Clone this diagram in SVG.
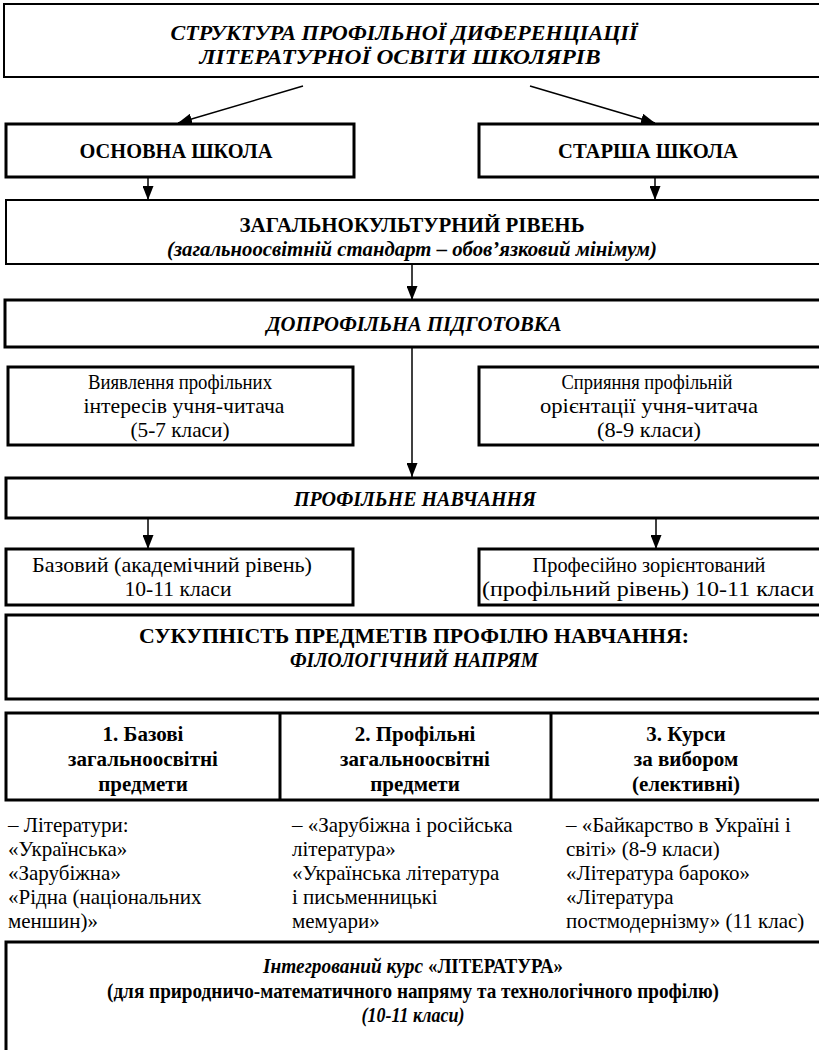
<svg xmlns="http://www.w3.org/2000/svg" width="819" height="1050" viewBox="0 0 819 1050">
<defs>
<marker id="ah" viewBox="0 0 14 11" refX="14" refY="5.5" markerWidth="14" markerHeight="11" markerUnits="userSpaceOnUse" orient="auto">
<path d="M0,0 L14,5.5 L0,11 z" fill="#000"/>
</marker>
</defs>
<rect width="819" height="1050" fill="#fff"/>
<g id="connectors" stroke="#000" stroke-width="1.5" fill="none">
<line x1="303" y1="86" x2="178" y2="123" marker-end="url(#ah)"/>
<line x1="530" y1="86" x2="655" y2="123" marker-end="url(#ah)"/>
<line x1="148" y1="177" x2="148" y2="200" marker-end="url(#ah)"/>
<line x1="655" y1="177" x2="655" y2="200" marker-end="url(#ah)"/>
<line x1="412" y1="264" x2="412" y2="300" marker-end="url(#ah)"/>
<line x1="412" y1="347" x2="412" y2="477" marker-end="url(#ah)"/>
<line x1="148" y1="518" x2="148" y2="549" marker-end="url(#ah)"/>
<line x1="656" y1="518" x2="656" y2="549" marker-end="url(#ah)"/>
</g>
<g id="title">
<rect fill="#fff" stroke="#000" stroke-width="2" x="4" y="4" width="820" height="73"/>
<text font-family="Liberation Serif" font-size="21" font-weight="bold" font-style="italic" text-anchor="middle" x="404" y="40" textLength="467" lengthAdjust="spacingAndGlyphs">СТРУКТУРА ПРОФІЛЬНОЇ ДИФЕРЕНЦІАЦІЇ</text>
<text font-family="Liberation Serif" font-size="21" font-weight="bold" font-style="italic" text-anchor="middle" x="400" y="64" textLength="401" lengthAdjust="spacingAndGlyphs">ЛІТЕРАТУРНОЇ ОСВІТИ ШКОЛЯРІВ</text>
</g>
<g id="osnovna">
<rect fill="#fff" stroke="#000" stroke-width="3" x="6" y="124" width="348" height="53"/>
<text font-family="Liberation Serif" font-size="21" font-weight="bold" text-anchor="middle" x="176" y="158" textLength="193" lengthAdjust="spacingAndGlyphs">ОСНОВНА ШКОЛА</text>
</g>
<g id="starsha">
<rect fill="#fff" stroke="#000" stroke-width="3" x="479" y="124" width="345" height="53"/>
<text font-family="Liberation Serif" font-size="21" font-weight="bold" text-anchor="middle" x="648" y="158" textLength="180" lengthAdjust="spacingAndGlyphs">СТАРША ШКОЛА</text>
</g>
<g id="zagalno">
<rect fill="#fff" stroke="#000" stroke-width="2" x="6" y="200" width="818" height="64"/>
<text font-family="Liberation Serif" font-size="21" font-weight="bold" text-anchor="middle" x="412" y="232" textLength="345" lengthAdjust="spacingAndGlyphs">ЗАГАЛЬНОКУЛЬТУРНИЙ РІВЕНЬ</text>
<text font-family="Liberation Serif" font-size="21" font-weight="bold" font-style="italic" text-anchor="middle" x="412" y="256" textLength="490" lengthAdjust="spacingAndGlyphs">(загальноосвітній стандарт – обов’язковий мінімум)</text>
</g>
<g id="doprofilna">
<rect fill="#fff" stroke="#000" stroke-width="3" x="5" y="300" width="819" height="47"/>
<text font-family="Liberation Serif" font-size="21" font-weight="bold" font-style="italic" text-anchor="middle" x="414" y="331" textLength="295" lengthAdjust="spacingAndGlyphs">ДОПРОФІЛЬНА ПІДГОТОВКА</text>
</g>
<g id="vyiavlennia">
<rect fill="#fff" stroke="#000" stroke-width="3" x="8" y="367" width="345" height="78"/>
<text font-family="Liberation Serif" font-size="21" text-anchor="middle" x="180" y="389" textLength="184" lengthAdjust="spacingAndGlyphs">Виявлення профільних</text>
<text font-family="Liberation Serif" font-size="21" text-anchor="middle" x="184" y="413" textLength="201" lengthAdjust="spacingAndGlyphs">інтересів учня-читача</text>
<text font-family="Liberation Serif" font-size="21" text-anchor="middle" x="180" y="437" textLength="99" lengthAdjust="spacingAndGlyphs">(5-7 класи)</text>
</g>
<g id="spryiannia">
<rect fill="#fff" stroke="#000" stroke-width="3" x="479" y="367" width="345" height="78"/>
<text font-family="Liberation Serif" font-size="21" text-anchor="middle" x="647" y="389" textLength="171" lengthAdjust="spacingAndGlyphs">Сприяння профільній</text>
<text font-family="Liberation Serif" font-size="21" text-anchor="middle" x="649" y="413" textLength="218" lengthAdjust="spacingAndGlyphs">орієнтації учня-читача</text>
<text font-family="Liberation Serif" font-size="21" text-anchor="middle" x="649" y="437" textLength="104" lengthAdjust="spacingAndGlyphs">(8-9 класи)</text>
</g>
<g id="profilne">
<rect fill="#fff" stroke="#000" stroke-width="3" x="6" y="478" width="818" height="40"/>
<text font-family="Liberation Serif" font-size="21" font-weight="bold" font-style="italic" text-anchor="middle" x="415" y="506" textLength="242" lengthAdjust="spacingAndGlyphs">ПРОФІЛЬНЕ НАВЧАННЯ</text>
</g>
<g id="bazovyi">
<rect fill="#fff" stroke="#000" stroke-width="3" x="6" y="549" width="347" height="56"/>
<text font-family="Liberation Serif" font-size="21" text-anchor="middle" x="172" y="572" textLength="280" lengthAdjust="spacingAndGlyphs">Базовий (академічний рівень)</text>
<text font-family="Liberation Serif" font-size="21" text-anchor="middle" x="178" y="596" textLength="107" lengthAdjust="spacingAndGlyphs">10-11 класи</text>
</g>
<g id="profesiino">
<rect fill="#fff" stroke="#000" stroke-width="3" x="479" y="549" width="345" height="56"/>
<text font-family="Liberation Serif" font-size="21" text-anchor="middle" x="649" y="572" textLength="233" lengthAdjust="spacingAndGlyphs">Професійно зорієнтований</text>
<text font-family="Liberation Serif" font-size="21" text-anchor="middle" x="648" y="596" textLength="332" lengthAdjust="spacingAndGlyphs">(профільний рівень) 10-11 класи</text>
</g>
<g id="sukupnist">
<rect fill="#fff" stroke="#000" stroke-width="3" x="6" y="615" width="818" height="84"/>
<text font-family="Liberation Serif" font-size="21" font-weight="bold" text-anchor="middle" x="414" y="643" textLength="550" lengthAdjust="spacingAndGlyphs">СУКУПНІСТЬ ПРЕДМЕТІВ ПРОФІЛЮ НАВЧАННЯ:</text>
<text font-family="Liberation Serif" font-size="21" font-weight="bold" font-style="italic" text-anchor="middle" x="414" y="667" textLength="248" lengthAdjust="spacingAndGlyphs">ФІЛОЛОГІЧНИЙ НАПРЯМ</text>
</g>
<g id="table">
<rect fill="#fff" stroke="#000" stroke-width="3" x="6" y="713" width="818" height="87"/>
<line x1="280" y1="713" x2="280" y2="800" stroke="#000" stroke-width="3"/>
<line x1="551" y1="713" x2="551" y2="800" stroke="#000" stroke-width="3"/>
<text font-family="Liberation Serif" font-size="21" font-weight="bold" text-anchor="middle" x="143" y="741">1. Базові</text>
<text font-family="Liberation Serif" font-size="21" font-weight="bold" text-anchor="middle" x="143" y="766">загальноосвітні</text>
<text font-family="Liberation Serif" font-size="21" font-weight="bold" text-anchor="middle" x="143" y="791">предмети</text>
<text font-family="Liberation Serif" font-size="21" font-weight="bold" text-anchor="middle" x="415" y="741">2. Профільні</text>
<text font-family="Liberation Serif" font-size="21" font-weight="bold" text-anchor="middle" x="415" y="766">загальноосвітні</text>
<text font-family="Liberation Serif" font-size="21" font-weight="bold" text-anchor="middle" x="415" y="791">предмети</text>
<text font-family="Liberation Serif" font-size="21" font-weight="bold" text-anchor="middle" x="686" y="741">3. Курси</text>
<text font-family="Liberation Serif" font-size="21" font-weight="bold" text-anchor="middle" x="686" y="766">за вибором</text>
<text font-family="Liberation Serif" font-size="21" font-weight="bold" text-anchor="middle" x="686" y="791">(елективні)</text>
</g>
<g id="list1">
<text font-family="Liberation Serif" font-size="21" x="8" y="832">– Літератури:</text>
<text font-family="Liberation Serif" font-size="21" x="8" y="856">«Українська»</text>
<text font-family="Liberation Serif" font-size="21" x="8" y="880">«Зарубіжна»</text>
<text font-family="Liberation Serif" font-size="21" x="8" y="904">«Рідна (національних</text>
<text font-family="Liberation Serif" font-size="21" x="8" y="928">меншин)»</text>
</g>
<g id="list2">
<text font-family="Liberation Serif" font-size="21" x="292" y="832">– «Зарубіжна і російська</text>
<text font-family="Liberation Serif" font-size="21" x="292" y="856">література»</text>
<text font-family="Liberation Serif" font-size="21" x="292" y="880">«Українська література</text>
<text font-family="Liberation Serif" font-size="21" x="292" y="904">і письменницькі</text>
<text font-family="Liberation Serif" font-size="21" x="292" y="928">мемуари»</text>
</g>
<g id="list3">
<text font-family="Liberation Serif" font-size="21" x="566" y="832">– «Байкарство в Україні і</text>
<text font-family="Liberation Serif" font-size="21" x="566" y="856">світі» (8-9 класи)</text>
<text font-family="Liberation Serif" font-size="21" x="566" y="880">«Література бароко»</text>
<text font-family="Liberation Serif" font-size="21" x="566" y="904">«Література</text>
<text font-family="Liberation Serif" font-size="21" x="566" y="928">постмодернізму» (11 клас)</text>
</g>
<g id="integrovanyi">
<rect fill="#fff" stroke="#000" stroke-width="3" x="6" y="942" width="818" height="115"/>
<text font-family="Liberation Serif" font-size="21" font-weight="bold" font-style="italic" text-anchor="end" x="423" y="973" textLength="160" lengthAdjust="spacingAndGlyphs">Інтегрований курс</text>
<text font-family="Liberation Serif" font-size="21" font-weight="bold" x="428" y="973" textLength="135" lengthAdjust="spacingAndGlyphs">«ЛІТЕРАТУРА»</text>
<text font-family="Liberation Serif" font-size="21" font-weight="bold" text-anchor="middle" x="413" y="998" textLength="612" lengthAdjust="spacingAndGlyphs">(для природничо-математичного напряму та технологічного профілю)</text>
<text font-family="Liberation Serif" font-size="21" font-weight="bold" font-style="italic" text-anchor="middle" x="413" y="1022" textLength="103" lengthAdjust="spacingAndGlyphs">(10-11 класи)</text>
</g>
</svg>
